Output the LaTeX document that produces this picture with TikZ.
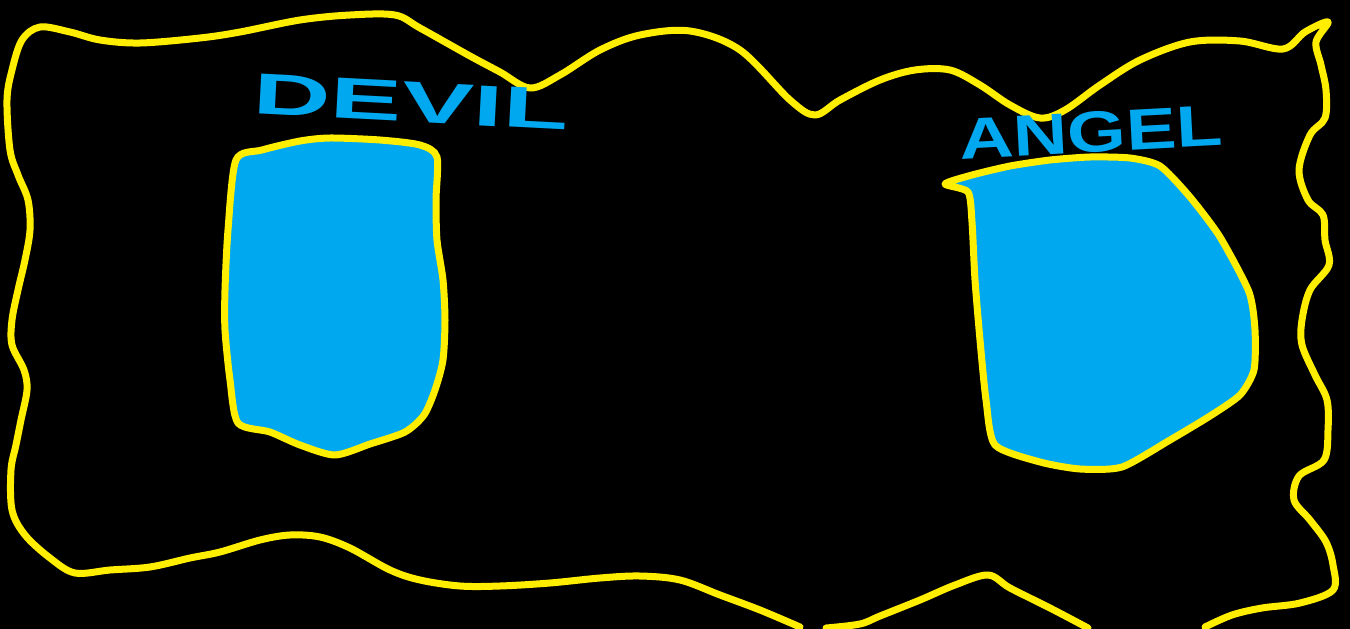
\documentclass[tikz,border=0pt]{standalone}
\usepackage{fontspec}
\setsansfont{Liberation Sans}
\definecolor{hlyellow}{RGB}{255,238,0}
\definecolor{skyblue}{RGB}{0,168,240}
\tikzset{
  border/.style={draw=hlyellow, line width=7pt, line cap=round, line join=round},
  blob/.style={draw=hlyellow, fill=skyblue, line width=7pt, line join=round},
  label/.style={text=skyblue, font=\sffamily\bfseries\fontsize{58}{58}\selectfont, inner sep=0pt}
}
\begin{document}
\begin{tikzpicture}[x=1pt,y=-1pt]
\fill[black] (0,0) rectangle (1350,629);
\useasboundingbox (0,0) rectangle (1350,629);
\clip (0,0) rectangle (1350,629);
% outer wavy frame
\draw[border] plot[smooth, tension=0.55] coordinates {
 (800,627) (760,610) (720,595) (680,580) (640,576) (600,578) (550,583) (500,586) (460,586)
 (420,580) (390,570) (350,548) (320,537) (290,535) (260,540) (220,552) (190,558) (150,567)
 (110,570) (75,573) (50,558) (25,535) (12,510) (11,470) (16,445) (21,420) (27,390) (24,370)
 (12,345) (12,320) (18,290) (25,260) (30,230) (28,200) (18,175) (10,150) (7,100) (12,70)
 (22,40) (40,27) (70,32) (100,40) (140,43) (200,38) (240,32) (300,20) (350,15) (395,15)
 (420,28) (470,56) (500,72) (530,88) (560,75) (600,50) (640,35) (690,31) (740,50) (790,100)
 (815,115) (840,100) (880,80) (915,70) (950,70) (980,85) (1010,105) (1040,118) (1065,110)
 (1100,85) (1140,60) (1190,42) (1240,41) (1283,49) (1305,32) (1328,22) (1316,42) (1321,65)
 (1326,90) (1325,118) (1310,135) (1299,170) (1308,200) (1323,215) (1325,240) (1329,265)
 (1310,290) (1302,320) (1302,345) (1315,375) (1327,400) (1328,430) (1324,460) (1299,476)
 (1294,500) (1310,520) (1326,542) (1333,565) (1333,590) (1300,603) (1262,608) (1232,615)
 (1205,627)};
\draw[border] plot[smooth, tension=0.55] coordinates {
 (826,628) (860,624) (880,616) (920,600) (955,585) (988,575) (1010,588) (1050,608) (1088,628)};
% left blob
\draw[blob] plot[smooth cycle, tension=0.45] coordinates {
 (236,160) (262,150) (300,141) (330,138) (380,140) (420,145) (437,157) (436,200) (437,240)
 (443,280) (445,320) (443,360) (435,390) (424,415) (405,432) (370,444) (335,455) (300,445)
 (270,432) (238,423) (230,380) (225,330) (225,290) (228,230)};
% right blob
\draw[blob] plot[smooth cycle, tension=0.4] coordinates {
 (945,184) (972,175) (1010,166) (1050,160) (1090,157) (1130,158) (1160,166) (1190,197)
 (1220,237) (1249,292) (1255,330) (1254,370) (1240,395) (1210,416) (1170,440) (1122,467)
 (1080,469) (1040,462) (995,445) (986,400) (980,340) (975,280) (972,222) (968,192)};
% labels
\node[label, anchor=south west, rotate=-3] (devil) at (252,114) {\scalebox{1.85}[1]{DEVIL}};
\node[label, anchor=south west, rotate=3] (angel) at (960,160) {\scalebox{1.3}[1]{ANGEL}};
\end{tikzpicture}
\end{document}
